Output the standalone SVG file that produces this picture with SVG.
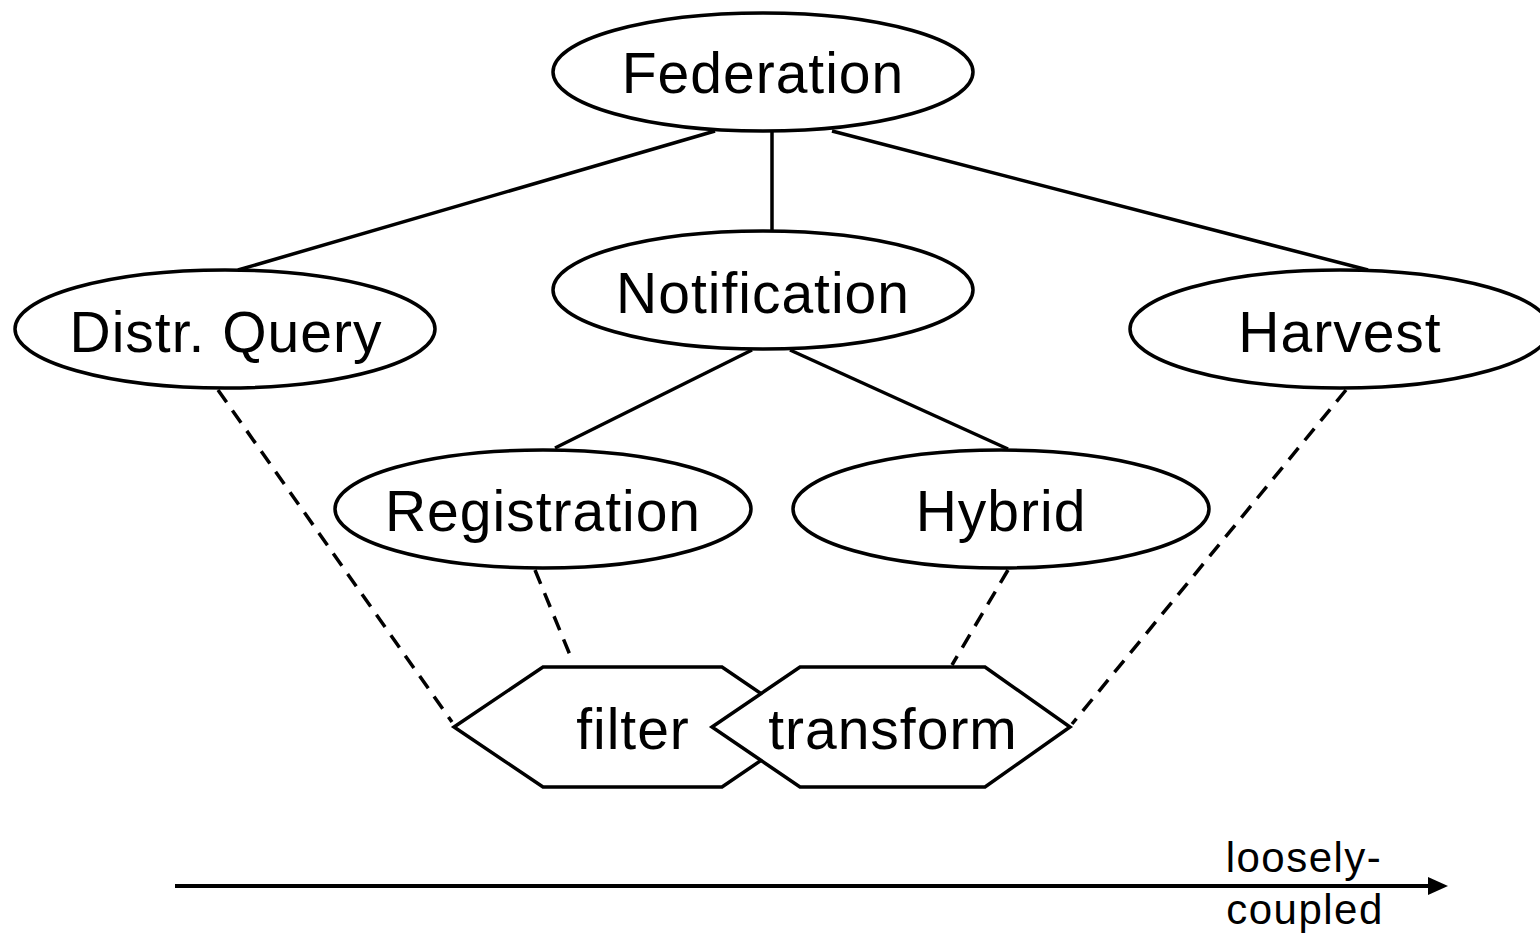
<svg xmlns="http://www.w3.org/2000/svg" width="1540" height="936" viewBox="0 0 1540 936">
<style>
.n{fill:#fff;stroke:#000;stroke-width:3.5}
.t{font-family:"Liberation Sans",Arial,sans-serif;font-size:57px;letter-spacing:1px;text-anchor:middle;fill:#000}
.s{font-family:"Liberation Sans",Arial,sans-serif;font-size:42px;letter-spacing:1.5px;text-anchor:middle;fill:#000}
.c{stroke:#000;stroke-width:3.5;fill:none}
.d{stroke:#000;stroke-width:3.5;fill:none;stroke-dasharray:15 10}
</style>
<defs>
<marker id="ah" markerWidth="20" markerHeight="20" refX="0" refY="10" orient="auto" markerUnits="userSpaceOnUse" viewBox="0 0 20 20">
<path d="M0,1 L20,10 L0,19 Z" fill="#000"/>
</marker>
</defs>
<rect width="1540" height="936" fill="#fff"/>
<g id="connectors">
<line class="c" x1="715" y1="131" x2="238" y2="270"/>
<line class="c" x1="772" y1="131" x2="772" y2="231"/>
<line class="c" x1="832" y1="131" x2="1368" y2="270"/>
<line class="c" x1="752" y1="350" x2="555" y2="448"/>
<line class="c" x1="790" y1="350" x2="1008" y2="449"/>
<line class="d" x1="218" y1="390" x2="452" y2="722"/>
<line class="d" x1="535" y1="570" x2="570" y2="655"/>
<line class="d" x1="1008" y1="570" x2="952" y2="665"/>
<line class="d" x1="1346" y1="390" x2="1072" y2="724"/>
</g>
<g id="federation"><ellipse class="n" cx="763" cy="72" rx="210" ry="59"/><text class="t" x="763" y="93">Federation</text></g>
<g id="notification"><ellipse class="n" cx="763" cy="290" rx="210" ry="59"/><text class="t" x="763" y="313">Notification</text></g>
<g id="distr-query"><ellipse class="n" cx="225" cy="329" rx="210" ry="59"/><text class="t" x="226" y="352">Distr. Query</text></g>
<g id="harvest"><ellipse class="n" cx="1340" cy="329" rx="210" ry="59"/><text class="t" x="1340" y="352">Harvest</text></g>
<g id="registration"><ellipse class="n" cx="543" cy="509" rx="208" ry="59"/><text class="t" x="543" y="531">Registration</text></g>
<g id="hybrid"><ellipse class="n" cx="1001" cy="509" rx="208" ry="59"/><text class="t" x="1001" y="531">Hybrid</text></g>
<g id="filter"><polygon class="n" points="454,727 543,667 722,667 810,727 722,787 543,787"/><text class="t" x="633" y="749">filter</text></g>
<g id="transform"><polygon class="n" points="712,727 800,667 985,667 1070,727 985,787 800,787"/><text class="t" x="893" y="749">transform</text></g>
<g id="axis">
<line x1="175" y1="886" x2="1428" y2="886" stroke="#000" stroke-width="4" marker-end="url(#ah)"/>
<text class="s" x="1304" y="872">loosely-</text>
<text class="s" x="1305" y="924">coupled</text>
</g>
</svg>
